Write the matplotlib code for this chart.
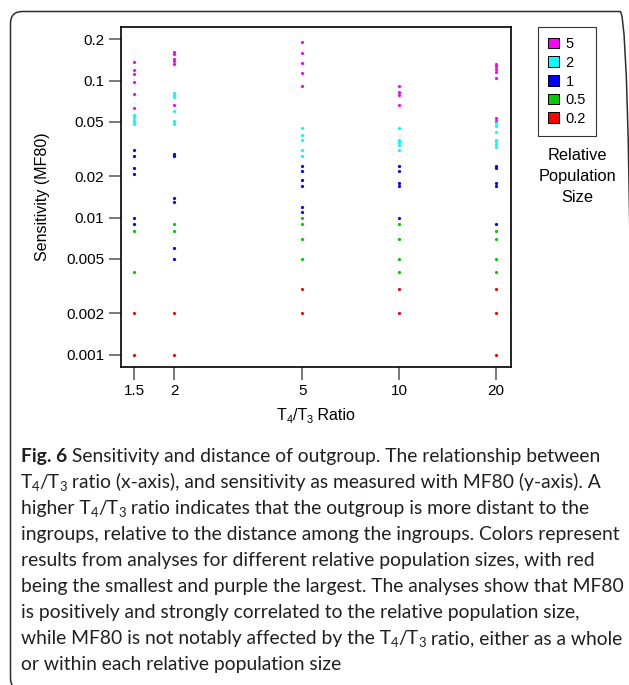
import matplotlib
matplotlib.use("Agg")
import matplotlib.pyplot as plt
from matplotlib.patches import FancyBboxPatch, Patch
from matplotlib.ticker import NullLocator, FixedLocator, FixedFormatter

# ---- data: MF80 sensitivity per T4/T3 ratio, one list per ratio ----
ratios = [1.5, 2, 5, 10, 20]
ratio_labels = ["1.5", "2", "5", "10", "20"]

pop_sizes = ["5", "2", "1", "0.5", "0.2"]
pop_colors = ["#FF00FF", "#00FFFF", "#0000FF", "#00CD00", "#FF0000"]

mf80_pop5 = [
    [0.137, 0.119, 0.112, 0.098, 0.080, 0.063],
    [0.163, 0.156, 0.143, 0.139, 0.133, 0.066],
    [0.193, 0.159, 0.135, 0.114, 0.092],
    [0.092, 0.083, 0.079, 0.067],
    [0.133, 0.127, 0.121, 0.116, 0.105, 0.053, 0.051],
]
mf80_pop2 = [
    [0.056, 0.054, 0.052, 0.050, 0.0485],
    [0.082, 0.079, 0.076, 0.060, 0.051, 0.049, 0.048],
    [0.045, 0.040, 0.037, 0.031, 0.028],
    [0.045, 0.037, 0.0355, 0.034, 0.031],
    [0.049, 0.0465, 0.042, 0.037, 0.036, 0.0345, 0.033],
]
mf80_pop1 = [
    [0.031, 0.028, 0.023, 0.021, 0.010, 0.009],
    [0.029, 0.028, 0.014, 0.013, 0.006, 0.005],
    [0.024, 0.022, 0.019, 0.017, 0.012, 0.011],
    [0.024, 0.022, 0.018, 0.017, 0.010],
    [0.024, 0.023, 0.018, 0.017, 0.009],
]
mf80_pop05 = [
    [0.008, 0.004],
    [0.009, 0.008],
    [0.010, 0.009, 0.007, 0.005],
    [0.009, 0.007, 0.005, 0.004],
    [0.008, 0.007, 0.005, 0.004],
]
mf80_pop02 = [
    [0.002, 0.001],
    [0.002, 0.001],
    [0.003, 0.002],
    [0.003, 0.002],
    [0.003, 0.002, 0.001],
]

y_ticks = [0.2, 0.1, 0.05, 0.02, 0.01, 0.005, 0.002, 0.001]
y_tick_labels = ["0.2", "0.1", "0.05", "0.02", "0.01", "0.005", "0.002", "0.001"]

caption_lines = [
    [("Fig. 6", "b"), (" Sensitivity and distance of outgroup. The relationship between", "n")],
    [("T", "n"), ("4", "s"), ("/T", "n"), ("3", "s"),
     (" ratio (x-axis), and sensitivity as measured with MF80 (y-axis). A", "n")],
    [("higher T", "n"), ("4", "s"), ("/T", "n"), ("3", "s"),
     (" ratio indicates that the outgroup is more distant to the", "n")],
    [("ingroups, relative to the distance among the ingroups. Colors represent", "n")],
    [("results from analyses for different relative population sizes, with red", "n")],
    [("being the smallest and purple the largest. The analyses show that MF80", "n")],
    [("is positively and strongly correlated to the relative population size,", "n")],
    [("while MF80 is not notably affected by the T", "n"), ("4", "s"), ("/T", "n"), ("3", "s"),
     (" ratio, either as a whole", "n")],
    [("or within each relative population size", "n")],
]

# ---- figure ----
W, H = 629, 685
fig = plt.figure(figsize=(W / 100, H / 100), dpi=100)
fig.patch.set_facecolor("white")
PLOT_FONT = "Liberation Sans"
CAP_FONT = "Lato"


def px_box(l, t, r, b):
    return [l / W, 1 - b / H, (r - l) / W, (b - t) / H]


# rounded outer frame (display pixels, origin bottom-left); runs past the
# right and bottom edges of the canvas
frame = FancyBboxPatch((10.5, H - 690), 621.5, 690 - 11.5,
                       boxstyle="round,pad=0,rounding_size=12",
                       transform=None, fill=False, edgecolor="#2e2e2e", linewidth=1.1)
fig.patches.append(frame)

ax = fig.add_axes(px_box(121, 27, 511, 367))
series = [mf80_pop5, mf80_pop2, mf80_pop1, mf80_pop05, mf80_pop02]
for color, vals in zip(pop_colors, series):
    for r, ys in zip(ratios, vals):
        ax.plot([r] * len(ys), ys, ls="none", marker="o", ms=2.3,
                mec="none", mfc=color)

ax.set_xscale("log")
ax.set_yscale("log")
ax.set_xlim(1.367, 22.26)
ax.set_ylim(0.000813, 0.2466)
ax.xaxis.set_major_locator(FixedLocator(ratios))
ax.xaxis.set_major_formatter(FixedFormatter(ratio_labels))
ax.xaxis.set_minor_locator(NullLocator())
ax.yaxis.set_major_locator(FixedLocator(y_ticks))
ax.yaxis.set_major_formatter(FixedFormatter(y_tick_labels))
ax.yaxis.set_minor_locator(NullLocator())
ax.tick_params(axis="both", length=9, width=1.1, color="#555555",
               labelsize=11, labelcolor="black", pad=3)
for lab in ax.get_xticklabels() + ax.get_yticklabels():
    lab.set_fontfamily(PLOT_FONT)
for sp in ax.spines.values():
    sp.set_linewidth(1.2)
    sp.set_color("black")

fig.text(42 / W, 1 - 197 / H, "Sensitivity (MF80)", rotation=90, ha="center",
         va="center", fontsize=11.5, family=PLOT_FONT)

# legend
handles = [Patch(facecolor=c, edgecolor="black", linewidth=0.7, label=l)
           for c, l in zip(pop_colors, pop_sizes)]
leg = fig.legend(handles=handles, loc="upper left", bbox_to_anchor=(538 / W, 1 - 27 / H),
                 frameon=True, fancybox=False, edgecolor="black",
                 prop={"family": PLOT_FONT, "size": 10.5},
                 handlelength=0.75, handleheight=0.75, handletextpad=0.45,
                 labelspacing=0.32, borderpad=0.7, borderaxespad=0)
leg.get_frame().set_linewidth(0.8)
fig.text(577 / W, 1 - 177 / H, "Relative\nPopulation\nSize", ha="center", va="center",
         fontsize=11.8, family=PLOT_FONT, linespacing=1.5)

fig.canvas.draw()
renderer = fig.canvas.get_renderer()


def text_width(s, **kw):
    # width including edge spaces, measured between two bars
    t1 = fig.text(0, 0, "|" + s + "|", **kw)
    t2 = fig.text(0, 0, "||", **kw)
    w = t1.get_window_extent(renderer).width - t2.get_window_extent(renderer).width
    t1.remove()
    t2.remove()
    return w


def run_style(kind, size, family, color):
    kw = dict(family=family, color=color, fontsize=size)
    if kind == "b":
        kw["fontweight"] = "bold"
    if kind == "s":
        kw["fontsize"] = size * 0.68
    return kw


def draw_runs(x_px, base_px, runs, size, family, color, center=False):
    widths = [text_width(s, **run_style(k, size, family, color)) for s, k in runs]
    x = x_px - sum(widths) / 2 if center else x_px
    for (s, k), w in zip(runs, widths):
        dy = size * 0.25 if k == "s" else 0
        fig.text(x / W, 1 - (base_px + dy) / H, s, ha="left", va="baseline",
                 **run_style(k, size, family, color))
        x += w


# x-axis label
draw_runs(316, 420, [("T", "n"), ("4", "s"), ("/T", "n"), ("3", "s"), (" Ratio", "n")],
          11.5, PLOT_FONT, "black", center=True)

# caption
cap_color = "#231f20"
for i, runs in enumerate(caption_lines):
    draw_runs(21, 462 + 26 * i, runs, 13.9, CAP_FONT, cap_color)

fig.savefig("out.png", dpi=100, facecolor="white")
